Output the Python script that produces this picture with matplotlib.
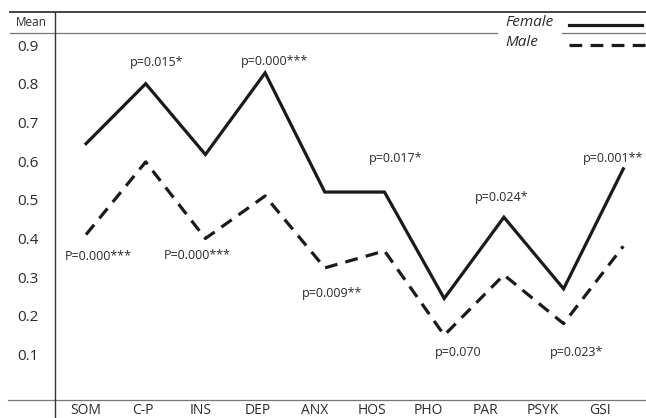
import matplotlib
matplotlib.use('Agg')
import matplotlib.pyplot as plt
from matplotlib.lines import Line2D
from matplotlib import font_manager

# pick a narrow humanist font if there is one
names = set(f.name for f in font_manager.fontManager.ttflist)
for fam in ['DejaVu Sans Condensed', 'Open Sans', 'DejaVu Sans']:
    if fam in names:
        plt.rcParams['font.family'] = [fam, 'DejaVu Sans']
        break

# ------------------------------- data
categories = ['SOM', 'C-P', 'INS', 'DEP', 'ANX', 'HOS', 'PHO', 'PAR', 'PSYK', 'GSI']
female = [0.645, 0.80, 0.617, 0.828, 0.52, 0.52, 0.245, 0.455, 0.27, 0.58]
male = [0.41, 0.598, 0.40, 0.51, 0.324, 0.368, 0.15, 0.306, 0.18, 0.38]
p_labels = ['P=0.000***', 'p=0.015*', 'P=0.000***', 'p=0.000***', 'p=0.009**',
            'p=0.017*', 'p=0.070', 'p=0.024*', 'p=0.023*', 'p=0.001**']
p_above = [False, True, False, True, False, True, False, True, False, True]
yticks = [0.1, 0.2, 0.3, 0.4, 0.5, 0.6, 0.7, 0.8, 0.9]

# label offsets in pixels (dx, dy) from the point they belong to
p_offsets = [(12, -22), (11, 21), (-8, -17), (9, 11), (7, -26),
             (11, 34), (14, -17), (-2, 20), (13, -29), (-10, 10)]

TXT = '#2a2a2a'
W, H = 646, 418
fig = plt.figure(figsize=(W / 100, H / 100), dpi=100)

# axes box in pixels: left 55, right 646, top 12, bottom 400
ax = fig.add_axes([55 / W, 18 / H, (W - 55) / W, (400 - 12) / H])
ax.set_xlim(-31 / 59.7, (W - 86) / 59.7)
ax.set_ylim(0.9 - 355 / 387, 0.9 + 33 / 387)
for s in ax.spines.values():
    s.set_visible(False)

x = list(range(len(categories)))
ax.plot(x, female, color='#1a1a1a', lw=2.3, solid_joinstyle='miter')
ax.plot(x, male, color='#1a1a1a', lw=2.3, linestyle=(0, (4, 2.6)),
        dash_capstyle='butt')

for i, lab in enumerate(p_labels):
    val = female[i] if p_above[i] else male[i]
    ax.annotate(lab, xy=(i, val), xytext=p_offsets[i], textcoords='offset pixels',
                ha='center', va='center', fontsize=9, color=TXT)

ax.set_yticks(yticks)
ax.set_yticklabels(['%.1f' % v for v in yticks])
ax.tick_params(axis='y', length=0, pad=12, labelsize=11, labelcolor=TXT)
# category labels sit a bit tighter than the data points
ax.set_xticks([i * 57.1 / 59.7 for i in x])
ax.set_xticklabels(categories)
ax.tick_params(axis='x', length=0, pad=2, labelsize=10, labelcolor=TXT)


# ------------------------------- table frame lines (pixel coords)
def hline(x0, x1, y, lw=1.0, color='#555555'):
    fig.add_artist(Line2D([x0 / W, x1 / W], [1 - y / H, 1 - y / H], lw=lw,
                          color=color, transform=fig.transFigure))


def vline(xp, y0, y1, lw=1.0, color='#333333'):
    fig.add_artist(Line2D([xp / W, xp / W], [1 - y0 / H, 1 - y1 / H], lw=lw,
                          color=color, transform=fig.transFigure))


hline(10, W, 12, lw=1.4, color='#444444')
hline(10, 497, 33, lw=0.9, color='#777777')
hline(562, W, 33, lw=0.9, color='#777777')
hline(8, W, 400, lw=0.9, color='#777777')
vline(55, 12, H, lw=1.0)

fig.text(16 / W, 1 - 23 / H, 'Mean', ha='left', va='center', fontsize=8.5,
         color=TXT)

# legend
fig.text(505 / W, 1 - 22 / H, 'Female', ha='left', va='center', fontsize=11,
         style='italic', color=TXT)
fig.text(505 / W, 1 - 43 / H, 'Male', ha='left', va='center', fontsize=11,
         style='italic', color=TXT)
fig.add_artist(Line2D([569 / W, 642 / W], [1 - 25 / H, 1 - 25 / H], lw=2.3,
                      color='#1a1a1a', transform=fig.transFigure))
fig.add_artist(Line2D([569 / W, 646 / W], [1 - 45 / H, 1 - 45 / H], lw=2.3,
                      color='#1a1a1a', linestyle=(0, (4, 2.6)),
                      dash_capstyle='butt', transform=fig.transFigure))

fig.savefig('out.png', dpi=100)
